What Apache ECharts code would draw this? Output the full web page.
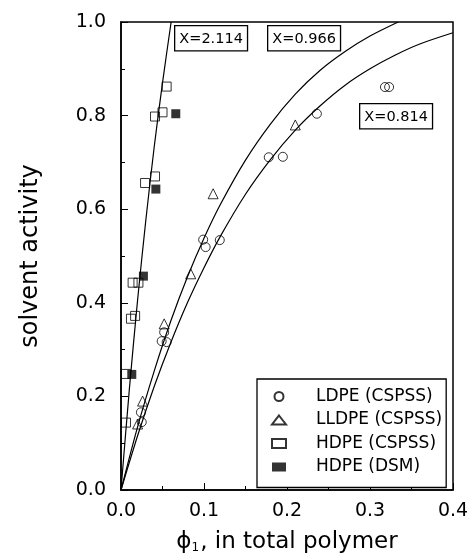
<!DOCTYPE html>
<html>
<head>
<meta charset="utf-8">
<script src="https://cdn.jsdelivr.net/npm/echarts@6/dist/echarts.min.js"></script>
<style>
    html, body { margin: 0; padding: 0; background: #fff; }
    #chart { width: 474px; height: 559px; }
</style>
</head>
<body>
<div id="chart"></div>
<script>
    // measured points
    var ldpe = [[0.024, 0.166], [0.025, 0.145], [0.049, 0.318], [0.055, 0.316], [0.052, 0.337],
        [0.099, 0.535], [0.102, 0.519], [0.119, 0.534], [0.178, 0.711], [0.195, 0.712],
        [0.236, 0.804], [0.318, 0.861], [0.323, 0.861]];
    var lldpe = [[0.020, 0.141], [0.026, 0.190], [0.052, 0.355], [0.084, 0.462], [0.111, 0.633], [0.210, 0.780]];
    var hdpeCspss = [[0.006, 0.144], [0.006, 0.248], [0.012, 0.366], [0.017, 0.372], [0.014, 0.443],
        [0.021, 0.443], [0.029, 0.656], [0.041, 0.670], [0.041, 0.798], [0.050, 0.807], [0.055, 0.862]];
    var hdpeDsm = [[0.013, 0.247], [0.027, 0.457], [0.042, 0.643], [0.066, 0.804]];

    // fitted curves
    var curve2114 = [[0, 0], [0.01, 0.214], [0.02, 0.406], [0.03, 0.578], [0.04, 0.733], [0.05, 0.870], [0.0604, 1.0]];
    var curve0966 = [[0, 0], [0.02, 0.135], [0.04, 0.254], [0.06, 0.361], [0.08, 0.455], [0.10, 0.538],
        [0.12, 0.611], [0.15, 0.705], [0.18, 0.782], [0.21, 0.846], [0.24, 0.897], [0.27, 0.937],
        [0.30, 0.970], [0.334, 1.0]];
    var curve0814 = [[0, 0], [0.02, 0.116], [0.04, 0.221], [0.06, 0.315], [0.08, 0.400], [0.10, 0.475],
        [0.12, 0.543], [0.15, 0.632], [0.18, 0.706], [0.21, 0.769], [0.24, 0.821], [0.27, 0.865],
        [0.30, 0.900], [0.33, 0.929], [0.36, 0.953], [0.40, 0.977]];

    var legendNames = ['LDPE (CSPSS)', 'LLDPE (CSPSS)', 'HDPE (CSPSS)', 'HDPE (DSM)'];
    var xTicks = [0, 0.1, 0.2, 0.3, 0.4];
    var yTicks = [0, 0.2, 0.4, 0.6, 0.8, 1.0];

    var FONT = 'DejaVu Sans';

    var openStyle = { color: 'rgba(0,0,0,0)', borderColor: '#000', borderWidth: 1 };

    var curveSeries = function (data) {
        return {
            type: 'line',
            data: data,
            smooth: 0.3,
            showSymbol: false,
            silent: true,
            lineStyle: { color: '#000', width: 1.2 },
            z: 1
        };
    };

    var boxLabel = function (text, left, top) {
        return {
            type: 'text',
            left: left,
            top: top,
            style: {
                text: text,
                font: '14.5px "DejaVu Sans"',
                fill: '#000',
                backgroundColor: '#fff',
                borderColor: '#000',
                borderWidth: 1.3,
                padding: [5, 4, 4, 4]
            },
            z: 10
        };
    };

    var myChart = echarts.init(document.getElementById('chart'));
    var option = {
        animation: false,
        backgroundColor: '#fff',
        textStyle: { fontFamily: FONT, color: '#000' },
        grid: {
            left: 121, right: 21, top: 22, bottom: 68,
            show: true, borderColor: '#000', borderWidth: 1.5
        },
        legend: {
            data: legendNames,
            orient: 'vertical',
            left: 257,
            top: 379,
            padding: [9, 4, 12, 14],
            itemGap: 6.5,
            itemWidth: 14,
            itemHeight: 9,
            borderColor: '#000',
            borderWidth: 1.3,
            backgroundColor: '#fff',
            textStyle: { fontFamily: FONT, fontSize: 17, color: '#000', padding: [0, 0, 0, 25] }
        },
        xAxis: {
            type: 'value',
            min: xTicks[0],
            max: xTicks[xTicks.length - 1],
            interval: 0.1,
            name: '{p|ϕ}{s|1}{p|, in total polymer}',
            nameLocation: 'middle',
            nameGap: 40,
            nameTextStyle: {
                rich: {
                    p: { fontFamily: FONT, fontSize: 23, color: '#000' },
                    s: { fontFamily: FONT, fontSize: 12, color: '#000', padding: [12, 1, 0, 0] }
                }
            },
            axisLine: { lineStyle: { color: '#000', width: 1.5 } },
            axisTick: { inside: true, length: 7, lineStyle: { color: '#000' } },
            minorTick: { show: true, splitNumber: 2, length: 4, lineStyle: { color: '#000' } },
            splitLine: { show: false },
            axisLabel: {
                fontFamily: FONT, fontSize: 19, color: '#000', margin: 12,
                formatter: function (v) { return v.toFixed(1); }
            }
        },
        yAxis: {
            type: 'value',
            min: yTicks[0],
            max: yTicks[yTicks.length - 1],
            interval: 0.2,
            name: 'solvent activity',
            nameLocation: 'middle',
            nameGap: 78,
            nameTextStyle: { fontFamily: FONT, fontSize: 24, color: '#000' },
            axisLine: { lineStyle: { color: '#000', width: 1.5 } },
            axisTick: { inside: true, length: 7, lineStyle: { color: '#000' } },
            minorTick: { show: true, splitNumber: 2, length: 4, lineStyle: { color: '#000' } },
            splitLine: { show: false },
            axisLabel: {
                fontFamily: FONT, fontSize: 19, color: '#000', margin: 15,
                formatter: function (v) { return v.toFixed(1); }
            }
        },
        graphic: [
            boxLabel('X=2.114', 174, 25),
            boxLabel('X=0.966', 267, 25),
            boxLabel('X=0.814', 359, 103)
        ],
        series: [
            curveSeries(curve2114),
            curveSeries(curve0966),
            curveSeries(curve0814),
            {
                name: legendNames[0], type: 'scatter', data: ldpe,
                symbol: 'circle', symbolSize: 9, itemStyle: openStyle, z: 3
            },
            {
                name: legendNames[1], type: 'scatter', data: lldpe,
                symbol: 'triangle', symbolSize: 10, itemStyle: openStyle, z: 3
            },
            {
                name: legendNames[2], type: 'scatter', data: hdpeCspss,
                symbol: 'rect', symbolSize: 9, itemStyle: openStyle, z: 3
            },
            {
                name: legendNames[3], type: 'scatter', data: hdpeDsm,
                symbol: 'rect', symbolSize: 9, itemStyle: { color: '#000' }, z: 3
            }
        ]
    };
    myChart.setOption(option);
    window.addEventListener('resize', function () {
        myChart.resize();
    });
</script>
</body>
</html>
